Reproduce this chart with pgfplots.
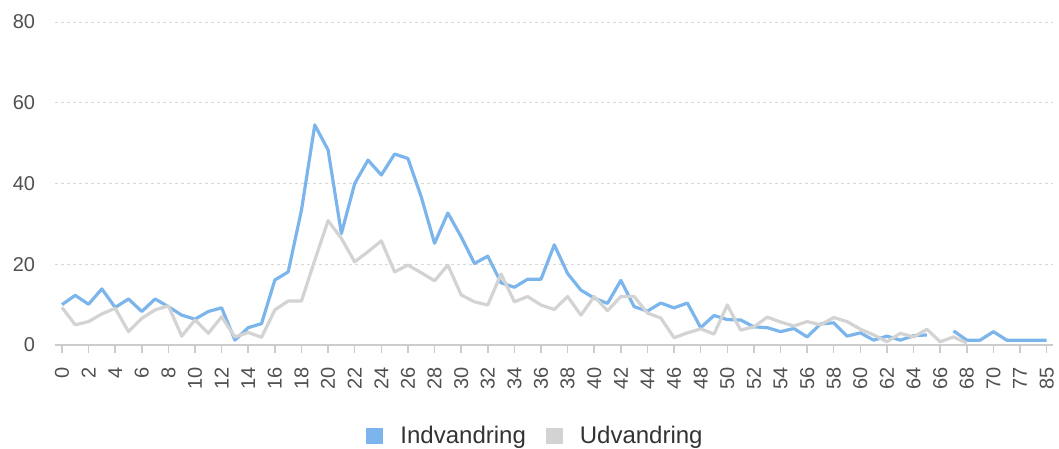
\documentclass[border=0pt]{standalone}
\usepackage{fontspec}
\setmainfont{Liberation Sans}
\usepackage{pgfplots}
\pgfplotsset{compat=1.18}
\usepackage{pgfplotstable}
\definecolor{cIn}{HTML}{7CB5EC}
\definecolor{cUd}{HTML}{D3D3D3}
\definecolor{tickc}{HTML}{505050}
\definecolor{legc}{HTML}{333333}
\definecolor{gridc}{HTML}{D8D8D8}
\definecolor{axc}{HTML}{CCCCCC}

\pgfplotstableread{
x y
0 10
1 12.3
2 10.1
3 13.9
4 9.3
5 11.4
6 8.3
7 11.4
8 9.5
9 7.4
10 6.4
11 8.3
12 9.2
13 1.2
14 4.3
15 5.3
16 16.1
17 18.1
18 33.4
19 54.5
20 48.3
21 27.6
22 40
23 45.8
24 42.1
25 47.3
26 46.2
27 36.7
28 25.2
29 32.7
30 26.8
31 20.2
32 22
33 15.4
34 14.3
35 16.3
36 16.3
37 24.8
38 17.7
39 13.6
40 11.6
41 10.3
42 16
43 9.5
44 8.4
45 10.4
46 9.2
47 10.4
48 4.3
49 7.3
50 6.3
51 6.2
52 4.5
53 4.3
54 3.3
55 4.1
56 2
57 5.2
58 5.5
59 2.2
60 3
61 1.2
62 2.2
63 1.2
64 2.3
65 2.5
66 nan
67 3.5
68 1.2
69 1.2
70 3.3
71 1.2
72 1.2
73 1.2
74 1.2
}\indv

\pgfplotstableread{
x y
0 9.3
1 5
2 5.8
3 7.7
4 9.1
5 3.3
6 6.6
7 8.7
8 9.7
9 2.2
10 6.2
11 2.9
12 7
13 2
14 3.1
15 1.9
16 8.7
17 10.9
18 10.9
19 21
20 30.8
21 26.4
22 20.6
23 23.1
24 25.8
25 18.1
26 19.8
27 17.9
28 15.9
29 19.8
30 12.4
31 10.7
32 9.9
33 17.6
34 10.7
35 12
36 9.9
37 8.8
38 12
39 7.4
40 12
41 8.5
42 12
43 12
44 7.9
45 6.7
46 1.8
47 3
48 4
49 2.7
50 9.9
51 3.7
52 4.5
53 6.9
54 5.7
55 4.7
56 5.8
57 5
58 6.8
59 5.8
60 3.9
61 2.5
62 0.8
63 2.9
64 2
65 3.9
66 0.8
67 2
68 0.5
}\udv

\begin{document}
\begin{tikzpicture}
\useasboundingbox (-55.3pt,-103pt) rectangle (1003.7pt,345pt);
\begin{axis}[
  scale only axis,
  width=998pt, height=323pt,
  xmin=-0.5, xmax=74.5,
  ymin=0, ymax=80,
  axis x line*=bottom,
  axis y line*=left,
  y axis line style={draw=none},
  x axis line style={draw=axc, line width=1.5pt},
  ytick={0,20,40,60,80},
  ymajorgrids,
  grid style={gridc, line width=1pt, dash pattern=on 3pt off 3pt},
  ytick style={draw=none},
  xtick={0,2,...,74},
  xticklabels={0,2,4,6,8,10,12,14,16,18,20,22,24,26,28,30,32,34,36,38,40,42,44,46,48,50,52,54,56,58,60,62,64,66,68,70,77,85},
  xtick style={draw=axc, line width=1.5pt},
  major tick length=8pt,
  tick align=outside,
  /pgf/number format/assume math mode=true,
  yticklabel style={font=\fontsize{20}{20}\selectfont, text=tickc, anchor=east, inner sep=0pt, xshift=-12pt},
  xticklabel style={font=\fontsize{20}{20}\selectfont, text=tickc, rotate=90, anchor=east, inner sep=0pt},
  xticklabel shift=14pt,
  unbounded coords=jump,
  legend columns=2,
  legend style={at={(axis description cs:0.4812,-0.2817)}, anchor=center, draw=none, fill=none,
    font=\fontsize{24}{24}\selectfont, text=legc,
    /tikz/every even column/.append style={column sep=18pt}},
  legend image code/.code={\fill[#1, draw=none] (0pt,-8pt) rectangle (17pt,8pt); \path[draw=none, fill=none] (0pt,0pt) -- (32pt,0pt);},
]
\addplot[cIn, line width=3.2pt, line join=round] table[x=x,y=y] {\indv};
\addlegendentry{Indvandring}
\addplot[cUd, line width=3.2pt, line join=round] table[x=x,y=y] {\udv};
\addlegendentry{Udvandring}
\end{axis}
\end{tikzpicture}
\end{document}
